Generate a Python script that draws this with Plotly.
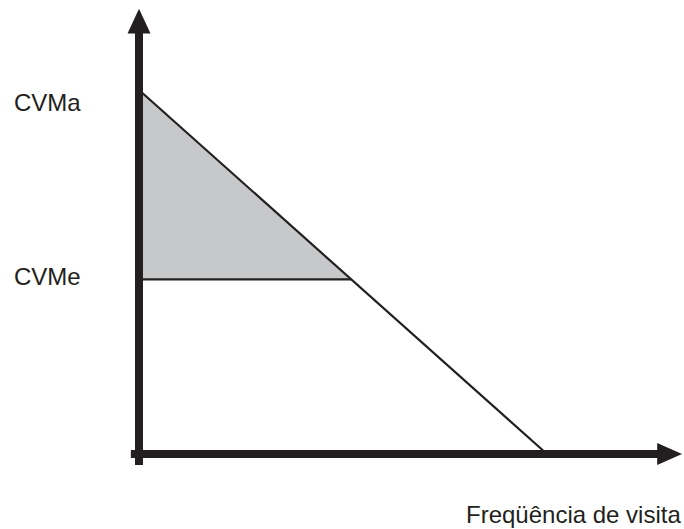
import plotly.graph_objects as go

# curva de demanda (frequência x custo de viagem médio)
frequencia = [0, 10]
custo = [10, 0]

cvm_labels = ["CVMa", "CVMe"]
cvm_values = [10, 4.8]

x_title = "Freqüência de visita"

INK = "#231f20"
GRAY = "#c7c8ca"

W, H = 684, 529
x0_px, y0_px = 139, 454          # pixel position of the origin
sx, sy = 40.8, 36.4              # pixels per data unit

cvma, cvme = cvm_values
q_max = frequencia[-1]
q_cvme = q_max * (1 - cvme / cvma)

fig = go.Figure()

# excedente (triângulo cinza)
fig.add_trace(go.Scatter(
    x=[0, 0, q_cvme, 0], y=[cvma, cvme, cvme, cvma],
    mode="lines", fill="toself", fillcolor=GRAY,
    line=dict(width=0), hoverinfo="skip"
))

# linha CVMe
fig.add_trace(go.Scatter(
    x=[0, q_cvme], y=[cvme, cvme], mode="lines",
    line=dict(color=INK, width=2.2), hoverinfo="skip"
))

# curva de demanda
fig.add_trace(go.Scatter(
    x=frequencia, y=custo, mode="lines",
    line=dict(color=INK, width=2.2), hoverinfo="skip"
))

# eixos com setas
x_end, y_end = 12.72, 11.57
head_len_x, head_half_x = 0.59, 11 / sy
head_len_y, head_half_y = 24 / sy, 11.5 / sx
fig.add_trace(go.Scatter(
    x=[-0.2, x_end], y=[0, 0], mode="lines",
    line=dict(color=INK, width=8), hoverinfo="skip"
))
fig.add_trace(go.Scatter(
    x=[0, 0], y=[-0.3, y_end], mode="lines",
    line=dict(color=INK, width=8), hoverinfo="skip"
))
fig.add_trace(go.Scatter(
    x=[x_end - 0.02, x_end + head_len_x, x_end - 0.02, x_end - 0.02],
    y=[head_half_x, 0, -head_half_x, head_half_x],
    mode="lines", fill="toself", fillcolor=INK,
    line=dict(width=0), hoverinfo="skip"
))
fig.add_trace(go.Scatter(
    x=[-head_half_y, 0, head_half_y, -head_half_y],
    y=[y_end - 0.02, y_end + head_len_y, y_end - 0.02, y_end - 0.02],
    mode="lines", fill="toself", fillcolor=INK,
    line=dict(width=0), hoverinfo="skip"
))

font = dict(family="Liberation Sans, Arial, sans-serif", size=24, color=INK)

for lab, val, shift in zip(cvm_labels, cvm_values, [-12.5, 2.5]):
    fig.add_annotation(
        x=12 / W, xref="paper", xanchor="left",
        y=val, yref="y", yanchor="middle", yshift=shift,
        text=lab, showarrow=False, font=font
    )

fig.add_annotation(
    x=683 / W, xref="paper", xanchor="right",
    y=1 - 514 / H, yref="paper", yanchor="middle",
    text=x_title, showarrow=False, font=font
)

fig.update_layout(
    width=W, height=H,
    margin=dict(l=0, r=0, t=0, b=0),
    paper_bgcolor="white", plot_bgcolor="white",
    showlegend=False,
    xaxis=dict(range=[-x0_px / sx, (W - x0_px) / sx], visible=False, fixedrange=True),
    yaxis=dict(range=[-(H - y0_px) / sy, y0_px / sy], visible=False, fixedrange=True),
)

# sem margem do body, para o gráfico ocupar a janela toda
fig.write_html(
    "out.html",
    config={"displayModeBar": False},
    post_script="document.body.style.margin='0';document.body.style.overflow='hidden';",
)
